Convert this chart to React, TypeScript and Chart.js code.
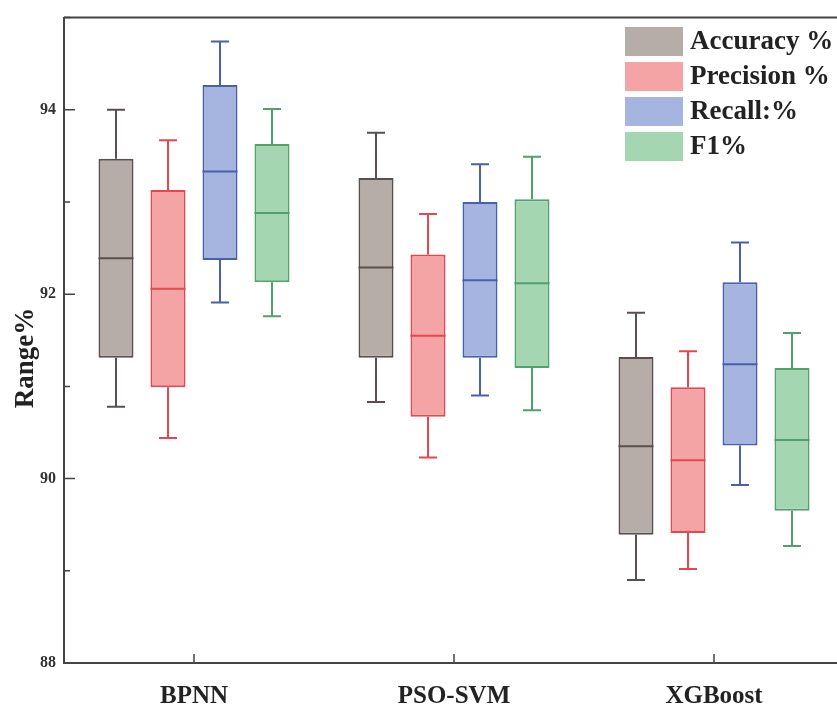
import React, { useEffect, useRef } from 'react';
import { Chart, registerables } from 'chart.js';

Chart.register(...registerables);

const categories = ['BPNN', 'PSO-SVM', 'XGBoost'];
const seriesLabels = ['Accuracy %', 'Precision %', 'Recall:%', 'F1%'];
// each entry: [min, q1, median, q3, max]
const accuracy = [
  [90.78, 91.31, 92.39, 93.47, 94.0],
  [90.83, 91.31, 92.29, 93.26, 93.75],
  [88.9, 89.39, 90.35, 91.32, 91.8],
];
const precision = [
  [90.44, 90.99, 92.06, 93.13, 93.67],
  [90.23, 90.67, 91.55, 92.43, 92.87],
  [89.02, 89.41, 90.2, 90.99, 91.38],
];
const recall = [
  [91.91, 92.37, 93.33, 94.27, 94.74],
  [90.9, 91.31, 92.15, 93.0, 93.41],
  [89.93, 90.36, 91.24, 92.13, 92.56],
];
const f1 = [
  [91.76, 92.13, 92.88, 93.63, 94.01],
  [90.74, 91.2, 92.12, 93.03, 93.49],
  [89.27, 89.65, 90.42, 91.2, 91.58],
];
const yMin = 88;
const yMax = 95;
const yLabelTicks = [88, 90, 92, 94];

const fillColors = ['#b6aca8', '#f5a4a6', '#a5b5df', '#a4d6b2'];
const borderColors = ['#5a4f4f', '#e6464f', '#4a60aa', '#52a06c'];
const FONT = '"Liberation Serif", "Times New Roman", serif';

const boxPlugin = {
  id: 'boxExtras',
  afterDatasetsDraw(chart: any) {
    const ctx = chart.ctx;
    const y = chart.scales.y;
    chart.data.datasets.forEach((ds: any, i: number) => {
      const meta = chart.getDatasetMeta(i);
      meta.data.forEach((el: any, j: number) => {
        const s = ds.stats[j];
        const x = el.x;
        const w = el.width;
        const pMin = y.getPixelForValue(s[0]);
        const pQ1 = y.getPixelForValue(s[1]);
        const pMed = y.getPixelForValue(s[2]);
        const pQ3 = y.getPixelForValue(s[3]);
        const pMax = y.getPixelForValue(s[4]);
        ctx.save();
        ctx.strokeStyle = ds.borderColor;
        ctx.lineWidth = 2;
        ctx.beginPath();
        ctx.moveTo(x, pQ3);
        ctx.lineTo(x, pMax);
        ctx.moveTo(x, pQ1);
        ctx.lineTo(x, pMin);
        ctx.moveTo(x - 9, pMax);
        ctx.lineTo(x + 9, pMax);
        ctx.moveTo(x - 9, pMin);
        ctx.lineTo(x + 9, pMin);
        ctx.moveTo(x - w / 2, pMed);
        ctx.lineTo(x + w / 2, pMed);
        ctx.stroke();
        ctx.restore();
      });
    });
  },
  afterDraw(chart: any) {
    const ctx = chart.ctx;
    const area = chart.chartArea;
    const y = chart.scales.y;
    const x = chart.scales.x;
    ctx.save();
    ctx.strokeStyle = '#444';
    ctx.lineWidth = 2;
    // top border
    ctx.beginPath();
    ctx.moveTo(area.left, area.top);
    ctx.lineTo(area.right, area.top);
    ctx.stroke();
    // inward y ticks
    ctx.lineWidth = 1.5;
    ctx.beginPath();
    y.ticks.forEach((t: any) => {
      const py = y.getPixelForValue(t.value);
      const len = t.value % 2 === 0 ? 11 : 6;
      ctx.moveTo(area.left, py);
      ctx.lineTo(area.left + len, py);
    });
    // inward x ticks
    categories.forEach((_c, i) => {
      const px = x.getPixelForValue(i);
      ctx.moveTo(px, area.bottom);
      ctx.lineTo(px, area.bottom - 9);
    });
    ctx.stroke();
    // y title
    ctx.fillStyle = '#222';
    ctx.font = `bold 27px ${FONT}`;
    ctx.textAlign = 'center';
    ctx.textBaseline = 'middle';
    ctx.translate(26, 358);
    ctx.rotate(-Math.PI / 2);
    ctx.fillText('Range%', 0, 0);
    ctx.restore();

    // legend
    ctx.save();
    ctx.font = `bold 27px ${FONT}`;
    ctx.textAlign = 'left';
    ctx.textBaseline = 'middle';
    chart.data.datasets.forEach((ds: any, i: number) => {
      const by = 27 + i * 35;
      ctx.fillStyle = ds.backgroundColor;
      ctx.fillRect(625, by, 58, 29);
      ctx.fillStyle = '#222';
      ctx.fillText(ds.label, 690, by + 15);
    });
    ctx.restore();
  },
};

export default function App() {
  const canvasRef = useRef<HTMLCanvasElement | null>(null);

  useEffect(() => {
    if (!canvasRef.current) return;
    const series = [accuracy, precision, recall, f1];
    const chart = new Chart(canvasRef.current, {
      type: 'bar',
      data: {
        labels: categories,
        datasets: series.map((stats, i) => ({
          label: seriesLabels[i],
          data: stats.map((s) => [s[1], s[3]]),
          stats,
          backgroundColor: fillColors[i],
          borderColor: borderColors[i],
          borderWidth: 2,
          borderSkipped: false,
          categoryPercentage: 0.8,
          barPercentage: 0.673,
        })) as any,
      },
      options: {
        animation: false,
        responsive: true,
        maintainAspectRatio: false,
        layout: { padding: { left: 0, top: 12, right: 1, bottom: 0 } },
        plugins: {
          legend: { display: false },
          tooltip: { enabled: false },
        },
        scales: {
          x: {
            type: 'category',
            grid: { display: false, drawTicks: false },
            border: { display: true, color: '#444', width: 2 },
            ticks: {
              color: '#222',
              font: { family: FONT, size: 25, weight: 'bold' },
              padding: 19,
              maxRotation: 0,
            },
            afterFit: (s: any) => {
              s.height = 45;
            },
          },
          y: {
            min: yMin,
            max: yMax,
            grid: { display: false, drawTicks: false },
            border: { display: true, color: '#444', width: 2 },
            ticks: {
              stepSize: 1,
              color: '#333',
              font: { family: FONT, size: 16, weight: 'bold' },
              padding: 8,
              callback: (v: any) => (yLabelTicks.includes(Number(v)) ? String(v) : ''),
            },
            afterFit: (s: any) => {
              s.width = 64;
            },
          },
        },
      },
      plugins: [boxPlugin],
    });
    return () => chart.destroy();
  }, []);

  return (
    <div
      style={{
        position: 'absolute',
        left: 0,
        top: 0,
        width: 837,
        height: 708,
        overflow: 'hidden',
        background: '#fff',
      }}
    >
      <div style={{ position: 'relative', width: 845, height: 708 }}>
        <canvas ref={canvasRef} />
      </div>
    </div>
  );
}
